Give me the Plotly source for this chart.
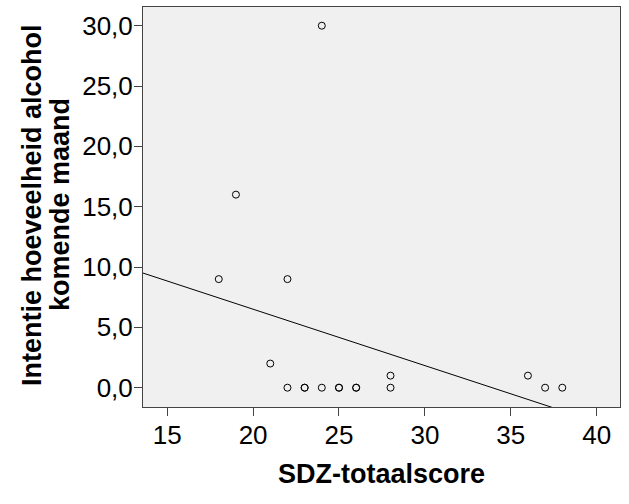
import numpy as np
import plotly.graph_objects as go

# Data
sdz_score = [18, 19, 22, 21, 22, 23, 23, 24, 25, 25, 26, 26, 28, 28, 36, 37, 38, 24]
intentie = [9, 16, 9, 2, 0, 0, 0, 0, 0, 0, 0, 0, 1, 0, 1, 0, 0, 30]
x_ticks = [15, 20, 25, 30, 35, 40]
y_ticks = [0, 5, 10, 15, 20, 25, 30]
x_title = "SDZ-totaalscore"
y_title_lines = ["Intentie hoeveelheid alcohol", "komende maand"]

x_range = [13.59, 41.36]
y_range = [-1.6, 31.55]

slope, intercept = np.polyfit(sdz_score, intentie, 1)
fit_x = np.array(x_range)
fit_y = intercept + slope * fit_x

FONT = "Liberation Sans, Arial, sans-serif"

fig = go.Figure()
fig.add_trace(go.Scatter(
    x=fit_x, y=fit_y, mode="lines",
    line=dict(color="black", width=1),
    hoverinfo="skip", showlegend=False,
))
fig.add_trace(go.Scatter(
    x=sdz_score, y=intentie, mode="markers",
    marker=dict(symbol="circle-open", size=7, color="black", line=dict(width=1)),
    showlegend=False, cliponaxis=True,
))

L, R, T, B = 143, 9, 7, 97
W, H = 629, 504
pw = W - L - R

fig.update_layout(
    width=W, height=H,
    margin=dict(l=L, r=R, t=T, b=B),
    paper_bgcolor="white",
    plot_bgcolor="#F0F0F0",
    separators=", ",
    font=dict(family=FONT, color="black"),
    xaxis=dict(
        range=x_range, tickvals=x_ticks, showgrid=False, zeroline=False,
        showline=True, mirror=True, linecolor="#444444", linewidth=1,
        ticks="outside", ticklen=8, tickcolor="#444444", ticklabelstandoff=-3,
        tickfont=dict(size=26, family=FONT, color="black"),
    ),
    yaxis=dict(
        range=y_range, tickvals=y_ticks, tickformat=".1f", showgrid=False, zeroline=False,
        showline=True, mirror=True, linecolor="#444444", linewidth=1,
        ticks="outside", ticklen=8, tickcolor="#444444", ticklabelstandoff=-4,
        tickfont=dict(size=26, family=FONT, color="black"),
    ),
    annotations=[
        dict(text="<b>%s</b>" % x_title, xref="paper", yref="paper",
             x=0.5, y=-(474 - (H - B)) / (H - T - B), xanchor="center", yanchor="middle",
             showarrow=False, font=dict(size=27, family=FONT, color="black")),
        dict(text="<b>%s</b>" % y_title_lines[0], xref="paper", yref="paper",
             x=(32 - L) / pw, y=0.5 - (205 - 207) / (H - T - B), xanchor="center", yanchor="middle",
             textangle=-90, showarrow=False, font=dict(size=27, family=FONT, color="black")),
        dict(text="<b>%s</b>" % y_title_lines[1], xref="paper", yref="paper",
             x=(60 - L) / pw, y=0.5 - (205 - 207) / (H - T - B), xanchor="center", yanchor="middle",
             textangle=-90, showarrow=False, font=dict(size=27, family=FONT, color="black")),
    ],
)

fig.write_html("out.html")
